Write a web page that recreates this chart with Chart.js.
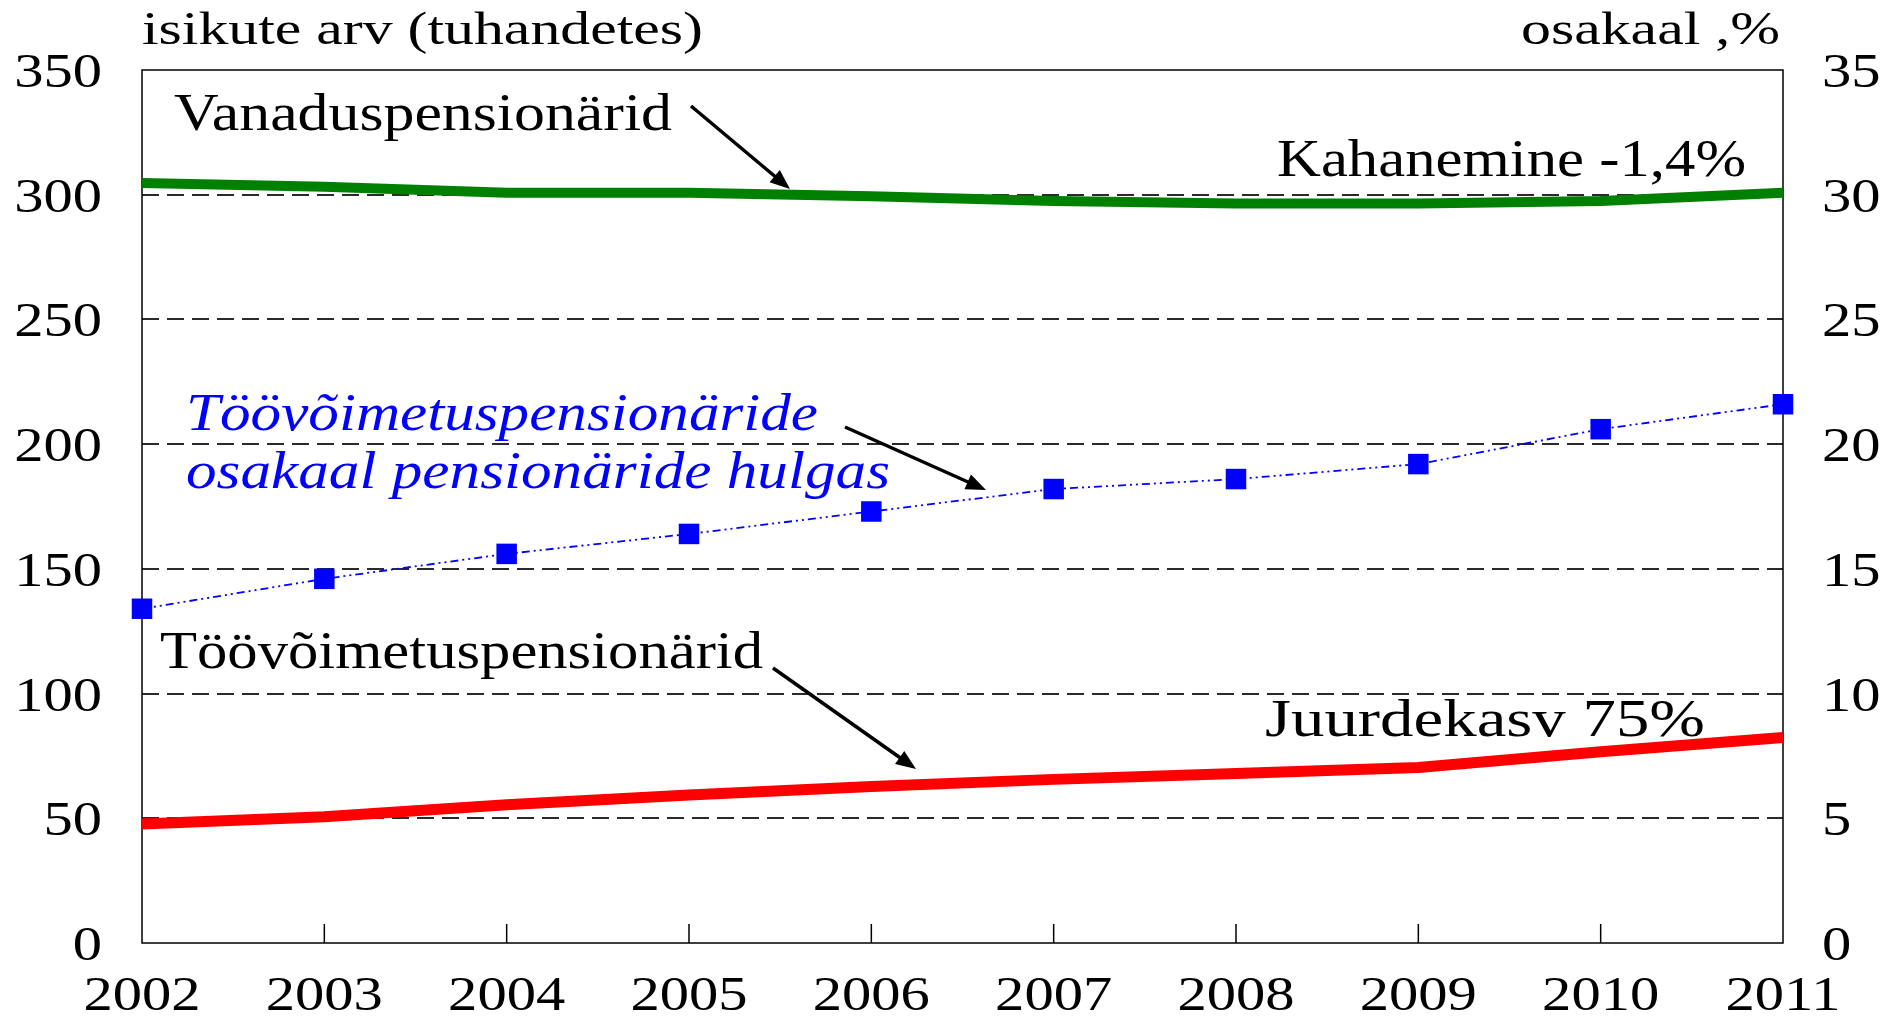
<!DOCTYPE html>
<html>
<head>
<meta charset="utf-8">
<script src="https://cdn.jsdelivr.net/npm/chart.js@4/dist/chart.umd.min.js"></script>
<style>
  html, body { margin: 0; padding: 0; background: #fff; }
  #wrap { width: 1885px; height: 1017px; }
</style>
</head>
<body>
<div id="wrap"><canvas id="pensChart" width="1885" height="1017"></canvas></div>
<script>
// aastad ja andmed (loetud jooniselt)
const years = ['2002', '2003', '2004', '2005', '2006', '2007', '2008', '2009', '2010', '2011'];
const vanadus = [304.7, 303.2, 300.8, 300.8, 299.4, 297.5, 296.5, 296.5, 297.5, 300.8];
const toovoimetus = [47.7, 50.6, 55.4, 59.3, 62.7, 65.6, 68.0, 70.4, 76.7, 82.4];
const osakaal = [13.4, 14.6, 15.6, 16.4, 17.3, 18.2, 18.6, 19.2, 20.6, 21.6];

const leftTicks = { min: 0, max: 350, step: 50 };
const rightTicks = { min: 0, max: 35, step: 5 };

const SERIF = "'Liberation Serif', Tinos, 'Times New Roman', serif";

// tekst venitatult (originaal on horisontaalselt laiem)
function stretchText(ctx, txt, x, y, o) {
    ctx.save();
    ctx.font = o.font;
    ctx.fillStyle = o.color || '#000';
    ctx.textBaseline = 'alphabetic';
    ctx.textAlign = 'left';
    const w = ctx.measureText(txt).width;
    const sx = o.width ? o.width / w : (o.sx || 1);
    let x0 = x;
    if (o.align === 'right') x0 = x - w * sx;
    else if (o.align === 'center') x0 = x - w * sx / 2;
    ctx.translate(x0, y);
    ctx.scale(sx, 1);
    ctx.fillText(txt, 0, 0);
    ctx.restore();
}

function arrow(ctx, x1, y1, x2, y2) {
    const ang = Math.atan2(y2 - y1, x2 - x1);
    const len = 20, half = 8;
    ctx.save();
    ctx.strokeStyle = '#000';
    ctx.fillStyle = '#000';
    ctx.lineWidth = 3.5;
    ctx.beginPath();
    ctx.moveTo(x1, y1);
    ctx.lineTo(x2 - Math.cos(ang) * len * 0.8, y2 - Math.sin(ang) * len * 0.8);
    ctx.stroke();
    ctx.beginPath();
    ctx.moveTo(x2, y2);
    ctx.lineTo(x2 - Math.cos(ang) * len + Math.sin(ang) * half, y2 - Math.sin(ang) * len - Math.cos(ang) * half);
    ctx.lineTo(x2 - Math.cos(ang) * len - Math.sin(ang) * half, y2 - Math.sin(ang) * len + Math.cos(ang) * half);
    ctx.closePath();
    ctx.fill();
    ctx.restore();
}

// raam + sisemised tikid x-teljel
const framePlugin = {
    id: 'frame',
    beforeDatasetsDraw(chart) {
        const { ctx, chartArea: a } = chart;
        const xs = chart.scales.x;
        ctx.save();
        ctx.strokeStyle = '#000';
        ctx.lineWidth = 1.5;
        ctx.strokeRect(a.left, a.top, a.right - a.left, a.bottom - a.top);
        for (let i = 1; i < xs.ticks.length - 1; i++) {
            const px = xs.getPixelForTick(i);
            ctx.beginPath();
            ctx.moveTo(px, a.bottom);
            ctx.lineTo(px, a.bottom - 19);
            ctx.stroke();
        }
        ctx.restore();
    }
};

// teljesildid ja kirjed
const labelsPlugin = {
    id: 'labels',
    afterDraw(chart) {
        const { ctx, chartArea: a } = chart;
        const y = chart.scales.y, y2 = chart.scales.y2, xs = chart.scales.x;
        const tickFont = '48px ' + SERIF;

        y.ticks.forEach(t => {
            stretchText(ctx, String(t.value), a.left - 40, y.getPixelForValue(t.value) + 17,
                { font: tickFont, sx: 1.22, align: 'right' });
        });
        y2.ticks.forEach(t => {
            stretchText(ctx, String(t.value), a.right + 39, y2.getPixelForValue(t.value) + 17,
                { font: tickFont, sx: 1.22, align: 'left' });
        });
        xs.getLabels().forEach((lab, i) => {
            stretchText(ctx, lab, xs.getPixelForTick(i), a.bottom + 67,
                { font: tickFont, sx: 1.22, align: 'center' });
        });

        const tf = '46px ' + SERIF;
        stretchText(ctx, 'isikute arv (tuhandetes)', 142, 44, { font: tf, width: 561 });
        stretchText(ctx, 'osakaal ,%', 1780, 44, { font: tf, width: 259, align: 'right' });

        const af = '52px ' + SERIF;
        stretchText(ctx, 'Vanaduspensionärid', 174, 130, { font: af, width: 498 });
        stretchText(ctx, 'Kahanemine -1,4%', 1277, 176, { font: af, width: 469 });
        stretchText(ctx, 'Töövõimetuspensionärid', 160, 668, { font: af, width: 603 });
        stretchText(ctx, 'Juurdekasv 75%', 1265, 736, { font: af, width: 440 });

        const itf = 'italic 52px ' + SERIF;
        stretchText(ctx, 'Töövõimetuspensionäride', 186, 430, { font: itf, width: 632, color: '#0000ff' });
        stretchText(ctx, 'osakaal pensionäride hulgas', 186, 488, { font: itf, width: 704, color: '#0000ff' });

        arrow(ctx, 691, 106, 790, 189);
        arrow(ctx, 845, 427, 986, 490);
        arrow(ctx, 773, 668, 916, 769);
    }
};

function drawChart() {
    new Chart(document.getElementById('pensChart'), {
        type: 'line',
        data: {
            labels: years,
            datasets: [
                {
                    label: 'Vanaduspensionärid',
                    data: vanadus,
                    yAxisID: 'y',
                    borderColor: '#008000',
                    borderWidth: 10,
                    pointRadius: 0,
                    tension: 0
                },
                {
                    label: 'Töövõimetuspensionärid',
                    data: toovoimetus,
                    yAxisID: 'y',
                    borderColor: '#ff0000',
                    borderWidth: 11,
                    pointRadius: 0,
                    tension: 0
                },
                {
                    label: 'Töövõimetuspensionäride osakaal pensionäride hulgas',
                    data: osakaal,
                    yAxisID: 'y2',
                    borderColor: '#0000ff',
                    borderWidth: 1.8,
                    borderDash: [8, 4, 2, 4, 2, 4],
                    pointStyle: 'rect',
                    pointRadius: 14.5,
                    pointBackgroundColor: '#0000ff',
                    pointBorderColor: '#0000ff',
                    pointBorderWidth: 0,
                    tension: 0,
                    clip: false
                }
            ]
        },
        options: {
            responsive: false,
            animation: false,
            devicePixelRatio: 1,
            layout: { autoPadding: false, padding: { top: 70, left: 0, right: 0, bottom: 0 } },
            plugins: { legend: { display: false }, tooltip: { enabled: false } },
            scales: {
                x: {
                    offset: false,
                    grid: { display: false, drawTicks: false },
                    border: { display: false },
                    ticks: { display: false },
                    afterFit: s => { s.height = 74; }
                },
                y: {
                    position: 'left',
                    min: leftTicks.min, max: leftTicks.max,
                    ticks: { display: false, stepSize: leftTicks.step },
                    grid: {
                        drawTicks: false,
                        lineWidth: 2,
                        color: c => (c.tick && (c.tick.value === 0 || c.tick.value === 350)) ? 'rgba(0,0,0,0)' : '#2a2a2a'
                    },
                    border: { display: false, dash: [17, 8] },
                    afterFit: s => { s.width = 142; }
                },
                y2: {
                    position: 'right',
                    min: rightTicks.min, max: rightTicks.max,
                    ticks: { display: false, stepSize: rightTicks.step },
                    grid: { display: false, drawTicks: false },
                    border: { display: false },
                    afterFit: s => { s.width = 102; }
                }
            }
        },
        plugins: [framePlugin, labelsPlugin]
    });
}

Promise.all([
    document.fonts.load("48px 'Liberation Serif'"),
    document.fonts.load("italic 52px 'Liberation Serif'")
]).then(drawChart, drawChart);
</script>
</body>
</html>
